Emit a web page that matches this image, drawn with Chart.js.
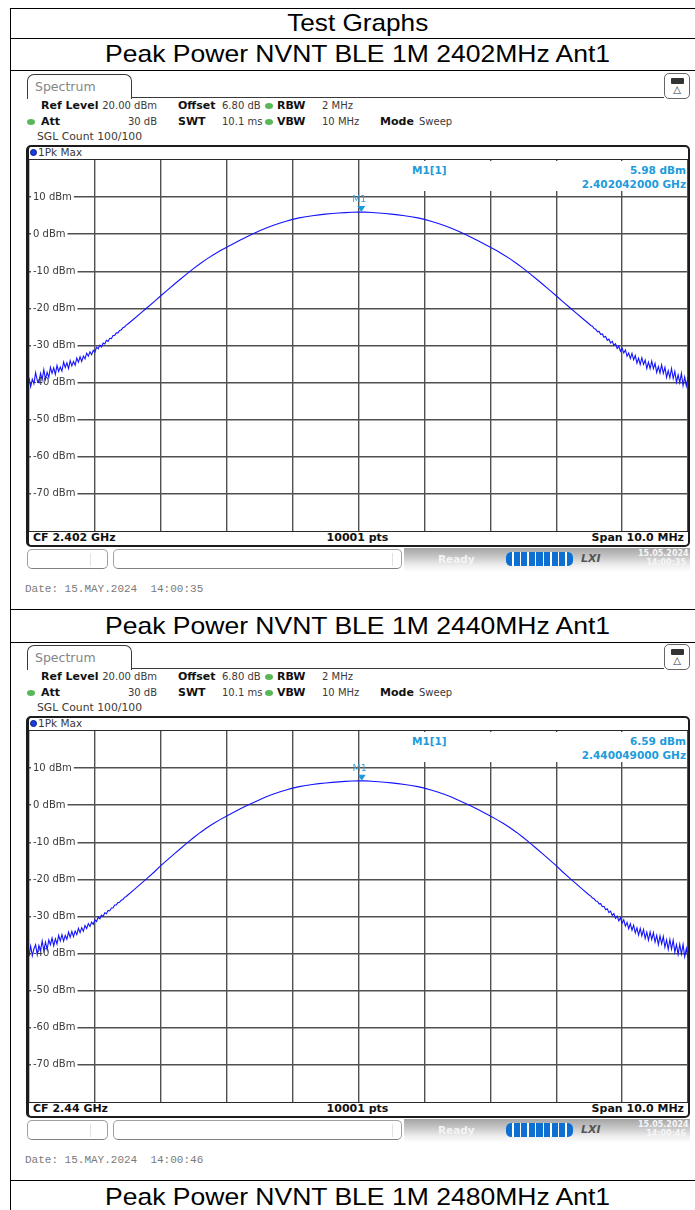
<!DOCTYPE html>
<html>
<head>
<meta charset="utf-8">
<title>Peak Power NVNT BLE 1M</title>
<script src="https://cdn.jsdelivr.net/npm/chart.js@4.4.1/dist/chart.umd.min.js"></script>
<style>
  html, body { margin: 0; padding: 0; background: #fff; }
  body { width: 695px; height: 1210px; position: relative; overflow: hidden; font-family: "DejaVu Sans", sans-serif; }
  .hline { position: absolute; left: 10px; width: 700px; height: 1px; background: #000; }
  .vline { position: absolute; left: 10px; top: 8px; width: 1px; height: 1210px; background: #000; }
  .cap { position: absolute; left: 11px; width: 694px; text-align: center; font-family: "Liberation Sans", Arial, sans-serif; font-size: 24px; color: #000; white-space: nowrap; }
  .cap span { display: inline-block; transform: scaleX(1.105); }
  .shot { position: absolute; left: 0; width: 695px; height: 535px; }
  .shot div, .shot span { position: absolute; box-sizing: border-box; }
  .tab { left: 27px; top: 3px; width: 105px; height: 25px; border: 1.5px solid #3a3a3a; border-bottom: none; border-radius: 7px 7px 0 0; font-size: 12.5px; color: #858585; padding-left: 7px; line-height: 23px; background: #fff; }
  .tabline { left: 131px; top: 26px; width: 533px; height: 0; border-top: 1.5px solid #3a3a3a; }
  .icon { left: 664px; top: 2px; width: 26px; height: 26px; border: 1px solid #666; border-radius: 5px; background: #fff; }
  .icon .bat { left: 6px; top: 4px; width: 13px; height: 6px; background: #333; border-radius: 1px; }
  .icon .tri { left: 0; top: 10px; width: 24px; text-align: center; font-size: 10px; line-height: 12px; color: #333; }
  .t { font-size: 10px; line-height: 14px; color: #3a3a3a; white-space: nowrap; }
  .t b { color: #111; font-size: 11px; }
  .dot { width: 8px; height: 6px; border-radius: 50%; background: #58b858; }
  .frame { left: 26px; top: 74px; width: 664px; height: 402px; border: 2px solid #1c1c1c; border-left-width: 3px; border-radius: 5px; }
  .sep { left: 29px; width: 659px; height: 1px; background: #2a2a2a; }
  .pkdot { left: 30px; top: 78px; width: 7px; height: 7px; border-radius: 50%; background: #1a3fe0; border: 1px solid #0a1a80; }
  .plot { left: 29px; top: 89px; width: 659px; height: 371px; }
  .readout { left: 336px; top: 1px; width: 322px; height: 30px; background: #fff; }
  .readout .t { color: #219bdb; font-weight: bold; font-size: 10.5px; }
  .foot { top: 460px; font-size: 11px; font-weight: bold; color: #111; line-height: 14px; white-space: nowrap; }
  .sbox { top: 478px; height: 20px; border: 1px solid #a0a0a0; border-bottom-color: #808080; border-radius: 5px; background: #fff; }
  .sbox i { position: absolute; top: 3px; width: 1px; height: 13px; background: #e2e2e2; }
  .band { left: 404px; top: 477px; width: 286px; height: 23px; background: linear-gradient(to bottom, #a4a4a4 0%, #c9c9c9 40%, #eeeeee 75%, #fcfcfc 100%); }
  .ready { left: 438px; top: 481px; font-size: 10.5px; font-weight: bold; color: #f4f4f4; line-height: 14px; }
  .prog { left: 506px; top: 481px; width: 67px; height: 14px; border-radius: 5px; overflow: hidden; display: flex; gap: 1.5px; background: #fff; }
  .prog i { flex: 1; background: #0c6fd1; }
  .lxi { left: 581px; top: 481px; font-size: 11px; font-weight: bold; font-style: italic; color: #555; line-height: 14px; }
  .sdate { left: 638px; top: 478px; font-size: 8px; font-weight: bold; color: #f6f6f6; line-height: 9px; text-align: right; width: 48px; }
  .date { left: 25px; top: 511px; font-family: "Liberation Mono", monospace; font-size: 11px; color: #7a7a7a; line-height: 14px; white-space: pre; }
</style>
</head>
<body>
<div class="vline"></div>
<div class="hline" style="top:8px"></div>
<div class="hline" style="top:38px"></div>
<div class="hline" style="top:70px"></div>
<div class="hline" style="top:609px"></div>
<div class="hline" style="top:642px"></div>
<div class="hline" style="top:1180px"></div>
<div class="cap" style="top:8px;height:30px;line-height:30px"><span style="transform:scaleX(1.09)">Test Graphs</span></div>
<div class="cap" style="top:38px;height:32px;line-height:32px"><span>Peak Power NVNT BLE 1M 2402MHz Ant1</span></div>
<div class="cap" style="top:609px;height:33px;line-height:33px"><span>Peak Power NVNT BLE 1M 2440MHz Ant1</span></div>
<div class="cap" style="top:1180px;height:33px;line-height:33px"><span>Peak Power NVNT BLE 1M 2480MHz Ant1</span></div>
<div id="shots"></div>
<script>
// frequency offset from the centre frequency, MHz (span 10 MHz)
const spanOffsetsMHz = [
  -5.000, -4.975, -4.950, -4.925, -4.900, -4.875, -4.850, -4.825, -4.800, -4.775,
  -4.750, -4.725, -4.700, -4.675, -4.650, -4.625, -4.600, -4.575, -4.550, -4.525,
  -4.500, -4.475, -4.450, -4.425, -4.400, -4.375, -4.350, -4.325, -4.300, -4.275,
  -4.250, -4.225, -4.200, -4.175, -4.150, -4.125, -4.100, -4.075, -4.050, -4.025,
  -4.000, -3.975, -3.950, -3.925, -3.900, -3.875, -3.850, -3.825, -3.800, -3.775,
  -3.750, -3.725, -3.700, -3.675, -3.650, -3.625, -3.600, -3.575, -3.550, -3.525,
  -3.5, -3.4, -3.3, -3.2, -3.1, -3.0, -2.9, -2.8, -2.7, -2.6, -2.5, -2.4,
  -2.3, -2.2, -2.1, -2.0, -1.9, -1.8, -1.7, -1.6, -1.5, -1.4, -1.3, -1.2,
  -1.1, -1.0, -0.9, -0.8, -0.7, -0.6, -0.5, -0.4, -0.3, -0.2, -0.1, 0,
  0.1, 0.2, 0.3, 0.4, 0.5, 0.6, 0.7, 0.8, 0.9, 1.0, 1.1, 1.2, 1.3, 1.4,
  1.5, 1.6, 1.7, 1.8, 1.9, 2.0, 2.1, 2.2, 2.3, 2.4, 2.5, 2.6, 2.7, 2.8,
  2.9, 3.0, 3.1, 3.2, 3.3, 3.4, 3.5,
  3.525, 3.550, 3.575, 3.600, 3.625, 3.650, 3.675, 3.700, 3.725, 3.750,
  3.775, 3.800, 3.825, 3.850, 3.875, 3.900, 3.925, 3.950, 3.975, 4.000,
  4.025, 4.050, 4.075, 4.100, 4.125, 4.150, 4.175, 4.200, 4.225, 4.250,
  4.275, 4.300, 4.325, 4.350, 4.375, 4.400, 4.425, 4.450, 4.475, 4.500,
  4.525, 4.550, 4.575, 4.600, 4.625, 4.650, 4.675, 4.700, 4.725, 4.750,
  4.775, 4.800, 4.825, 4.850, 4.875, 4.900, 4.925, 4.950, 4.975, 5.000
]

// 1Pk Max trace, dBm, 2402 MHz
const levels2402 = [
  -38.7, -41.1, -39.1, -40.3, -37.3, -39.4, -40.0, -37.5, -39.2, -36.5,
  -39.1, -37.2, -38.6, -35.9, -37.5, -36.0, -37.8, -35.4, -37.0, -35.8,
  -36.9, -34.45, -35.9, -34.65, -36.2, -34.1, -35.5, -34.3, -35.3, -33.4,
  -34.5, -33.05, -34.3, -32.85, -33.6, -32.05, -32.9, -31.7, -32.5, -31.3,
  -31.8, -30.45, -30.9, -29.9, -30.4, -29.35, -29.6, -28.6, -28.9, -28.05,
  -28.15, -27.3, -27.3, -26.6, -26.6, -25.95, -25.8, -25.2, -25.0, -24.5,
  -24.2, -22.72, -21.22, -19.7, -18.16, -16.6, -15.06, -13.56, -12.08, -10.63, -9.2, -7.88,
  -6.66, -5.53, -4.48, -3.5, -2.55, -1.64, -0.76, 0.09, 0.9, 1.66, 2.34, 2.96,
  3.51, 4.0, 4.4, 4.72, 4.99, 5.22, 5.4, 5.56, 5.7, 5.82, 5.92, 5.98,
  5.94, 5.84, 5.72, 5.58, 5.41, 5.22, 4.99, 4.72, 4.4, 4.0, 3.51, 2.96, 2.34, 1.66,
  0.9, 0.09, -0.76, -1.64, -2.55, -3.5, -4.48, -5.53, -6.66, -7.88, -9.2, -10.63, -12.08, -13.56,
  -15.06, -16.6, -18.16, -19.7, -21.22, -22.72, -24.2,
  -24.6, -24.8, -25.45, -25.6, -26.25, -26.2, -27.0, -26.9, -27.8, -27.6,
  -28.6, -28.3, -29.35, -28.85, -29.95, -29.5, -30.8, -30.2, -31.55, -30.7,
  -32.0, -31.2, -32.9, -32.0, -33.55, -32.1, -33.85, -32.7, -34.75, -33.4,
  -35.1, -33.3, -35.1, -33.9, -36.2, -34.5, -36.25, -34.2, -36.25, -34.8,
  -37.3, -35.7, -37.4, -35.2, -37.5, -35.9, -38.6, -36.8, -38.7, -36.2,
  -38.9, -37.0, -39.9, -37.9, -40.0, -37.5, -40.8, -38.5, -40.9, -38.6
]

// 1Pk Max trace, dBm, 2440 MHz
const levels2440 = [
  -40.7, -38.0, -40.6, -38.7, -37.6, -40.3, -37.8, -39.1, -36.6, -39.2,
  -36.9, -38.9, -36.3, -37.6, -35.8, -37.9, -36.0, -37.4, -35.1, -36.6,
  -34.9, -36.65, -35.1, -36.15, -34.2, -35.6, -34.0, -35.4, -33.9, -34.9,
  -33.2, -34.35, -33.0, -33.95, -32.4, -33.25, -31.9, -32.7, -31.5, -32.1,
  -30.9, -31.35, -30.2, -30.6, -29.65, -30.0, -29.0, -29.25, -28.35, -28.5,
  -27.7, -27.7, -26.9, -26.9, -26.25, -26.15, -25.6, -25.4, -24.85, -24.6,
  -24.2, -22.68, -21.14, -19.58, -18.0, -16.3, -14.72, -13.18, -11.66, -10.17, -8.7, -7.34,
  -6.1, -4.95, -3.89, -2.9, -1.95, -1.04, -0.16, 0.69, 1.5, 2.26, 2.94, 3.56,
  4.11, 4.6, 5.0, 5.32, 5.59, 5.82, 6.0, 6.16, 6.3, 6.42, 6.52, 6.58,
  6.55, 6.45, 6.32, 6.18, 6.01, 5.82, 5.59, 5.32, 5.0, 4.6, 4.11, 3.56, 2.94, 2.26,
  1.5, 0.69, -0.16, -1.04, -1.95, -2.9, -3.89, -4.95, -6.1, -7.34, -8.7, -10.17, -11.66, -13.18,
  -14.72, -16.3, -18.0, -19.58, -21.14, -22.68, -24.2,
  -24.5, -25.0, -25.2, -25.85, -25.9, -26.6, -26.55, -27.35, -27.25, -28.2,
  -27.95, -28.95, -28.55, -29.7, -29.2, -30.5, -29.9, -31.2, -30.35, -31.8,
  -30.9, -32.6, -31.6, -33.3, -31.95, -33.7, -32.35, -34.4, -33.05, -35.0,
  -33.2, -35.2, -33.5, -35.9, -34.2, -36.4, -34.15, -36.2, -34.35, -36.9,
  -35.1, -37.6, -35.2, -37.4, -35.4, -38.3, -36.3, -38.9, -36.2, -38.8,
  -36.4, -39.6, -37.6, -40.2, -37.5, -40.1, -37.5, -40.8, -38.6, -41.1
]

const shotTops = [71, 642]
const traces = [levels2402, levels2440]
const centerFreqLabels = ["CF 2.402 GHz", "CF 2.44 GHz"]
const markerFreqMHz = [0.042, 0.049]
const markerLevelDbm = [5.98, 6.59]
const markerFreqText = ["2.402042000 GHz", "2.440049000 GHz"]
const sweepDates = ["15.MAY.2024  14:00:35", "15.MAY.2024  14:00:46"]
const levelMin = -80
const levelMax = 20

function shotMarkup(i) {
  return `
    <div class="tab">Spectrum</div>
    <div class="tabline"></div>
    <div class="icon"><div class="bat"></div><div class="tri">&#9651;</div></div>
    <div class="t" style="left:41px;top:28px"><b>Ref Level</b></div>
    <div class="t" style="right:538px;top:28px">20.00 dBm</div>
    <div class="t" style="left:178px;top:28px"><b>Offset</b></div>
    <div class="t" style="left:222px;top:28px">6.80 dB</div>
    <span class="dot" style="left:265px;top:32px"></span>
    <div class="t" style="left:277px;top:28px"><b>RBW</b></div>
    <div class="t" style="left:322px;top:28px">2 MHz</div>
    <span class="dot" style="left:27px;top:48px"></span>
    <div class="t" style="left:41px;top:44px"><b>Att</b></div>
    <div class="t" style="right:538px;top:44px">30 dB</div>
    <div class="t" style="left:178px;top:44px"><b>SWT</b></div>
    <div class="t" style="left:222px;top:44px">10.1 ms</div>
    <span class="dot" style="left:265px;top:48px"></span>
    <div class="t" style="left:277px;top:44px"><b>VBW</b></div>
    <div class="t" style="left:322px;top:44px">10 MHz</div>
    <div class="t" style="left:380px;top:44px"><b>Mode</b></div>
    <div class="t" style="left:419px;top:44px">Sweep</div>
    <div class="t" style="left:37px;top:59px;font-size:10.8px">SGL Count 100/100</div>
    <div class="frame"></div>
    <span class="pkdot"></span>
    <div class="t" style="left:38px;top:74px;font-size:10.5px">1Pk Max</div>
    <div class="sep" style="top:88px"></div>
    <div class="plot">
      <canvas id="trace${i}"></canvas>
      <div class="readout">
        <div class="t" style="left:47px;top:2px">M1[1]</div>
        <div class="t" style="right:1px;top:2px">${markerLevelDbm[i].toFixed(2)} dBm</div>
        <div class="t" style="right:1px;top:16px">${markerFreqText[i]}</div>
      </div>
    </div>
    <div class="sep" style="top:460px"></div>
    <div class="foot" style="left:33px">${centerFreqLabels[i]}</div>
    <div class="foot" style="left:300px;width:115px;text-align:center">10001 pts</div>
    <div class="foot" style="right:11px">Span 10.0 MHz</div>
    <div class="sbox" style="left:27px;width:81px"><i style="left:62px"></i></div>
    <div class="sbox" style="left:113px;width:289px"><i style="left:278px"></i></div>
    <div class="band"></div>
    <div class="ready">Ready</div>
    <div class="prog"><i></i><i></i><i></i><i></i><i></i><i></i><i></i><i></i><i></i></div>
    <div class="lxi">LXI</div>
    <div class="sdate">15.05.2024<br>${sweepDates[i].slice(-8)}</div>
    <div class="date">Date: ${sweepDates[i]}</div>
  `
}

// marker M1: triangle on the trace and label above it
const markerPlugin = {
  id: "m1",
  afterDatasetsDraw(chart, args, opts) {
    const x = chart.scales.x.getPixelForValue(opts.freq)
    const y = chart.scales.y.getPixelForValue(opts.level)
    const ctx = chart.ctx
    ctx.save()
    ctx.fillStyle = "#1e9be0"
    ctx.beginPath()
    ctx.moveTo(x, y)
    ctx.lineTo(x - 4, y - 6)
    ctx.lineTo(x + 4, y - 6)
    ctx.closePath()
    ctx.fill()
    ctx.font = "9.5px 'DejaVu Sans'"
    ctx.fillStyle = "#3aa3dc"
    ctx.textAlign = "center"
    ctx.textBaseline = "middle"
    ctx.fillText("M1", x - 2, y - 12)
    ctx.restore()
  }
}

// axes take no room: the plot fills the whole canvas
function noRoom(scale) {
  if (scale.isHorizontal()) scale.height = 0
  else scale.width = 0
  scale.paddingTop = 0
  scale.paddingBottom = 0
  scale.paddingLeft = 0
  scale.paddingRight = 0
}

const holder = document.getElementById("shots")
shotTops.forEach((top, i) => {
  const shot = document.createElement("div")
  shot.className = "shot"
  shot.style.top = top + "px"
  shot.innerHTML = shotMarkup(i)
  holder.appendChild(shot)

  const points = spanOffsetsMHz.map((f, k) => ({ x: f, y: traces[i][k] }))
  new Chart(document.getElementById("trace" + i), {
    type: "line",
    data: {
      datasets: [{
        data: points,
        borderColor: "#1414ff",
        borderWidth: 1.1,
        pointRadius: 0,
        tension: 0
      }]
    },
    options: {
      responsive: true,
      maintainAspectRatio: false,
      animation: false,
      events: [],
      layout: { padding: 0, autoPadding: false },
      plugins: {
        legend: { display: false },
        tooltip: { enabled: false },
        m1: { freq: markerFreqMHz[i], level: markerLevelDbm[i] }
      },
      scales: {
        x: {
          type: "linear",
          min: -5,
          max: 5,
          afterFit: noRoom,
          border: { display: false },
          grid: { color: "#505050", lineWidth: 1.4, drawTicks: false, z: -1 },
          ticks: { display: false, stepSize: 1 }
        },
        y: {
          type: "linear",
          min: levelMin,
          max: levelMax,
          afterFit: noRoom,
          border: { display: false },
          grid: { color: "#505050", lineWidth: 1.4, drawTicks: false, z: -1 },
          ticks: {
            stepSize: 10,
            mirror: true,
            padding: 4,
            color: "#3a3a3a",
            font: { family: "DejaVu Sans", size: 10 },
            showLabelBackdrop: true,
            backdropColor: "#ffffff",
            backdropPadding: { top: 0, bottom: 0, left: 2, right: 2 },
            callback: (v) => (v === levelMin || v === levelMax ? null : v + " dBm")
          }
        }
      }
    },
    plugins: [markerPlugin]
  })
})
</script>
</body>
</html>
